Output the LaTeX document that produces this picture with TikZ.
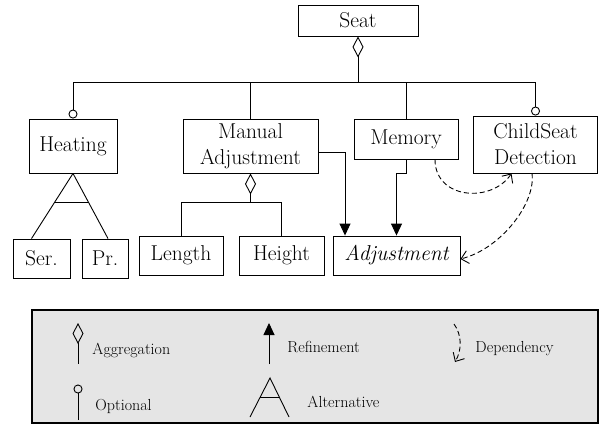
\documentclass[tikz,border=0pt]{standalone}
\usetikzlibrary{arrows.meta}

\begin{document}
\begin{tikzpicture}[x=1pt, y=-1pt, line width=0.9pt,
  feat/.style={draw, inner sep=0pt, align=center, font=\fontsize{21.5}{26}\selectfont},
  legtext/.style={anchor=base west, inner sep=0pt, font=\fontsize{16}{20}\selectfont},
  aggr/.style={{Diamond[open,length=21pt,width=11pt]}-},
  opt/.style={-{Circle[open,length=9pt]}},
  refine/.style={-{Triangle[length=12pt,width=11pt]}},
  dep/.style={dash pattern=on 5pt off 3pt, -{Straight Barb[length=7pt,width=13pt]}}]
  \useasboundingbox (0,0) rectangle (599,433);

  \node[feat, minimum width=120pt, minimum height=31pt] (seat) at (358,20.5) {Seat};
  \node[feat, minimum width=88pt, minimum height=54pt] (heating) at (73,146) {Heating};
  \node[feat, minimum width=135pt, minimum height=54pt] (manual) at (250.5,146) {Manual\\Adjustment};
  \node[feat, minimum width=104pt, minimum height=40pt] (memory) at (406,139) {Memory};
  \node[feat, minimum width=124pt, minimum height=57pt] (child) at (535.5,144.5) {ChildSeat\\Detection};
  \node[feat, minimum width=57pt, minimum height=39pt] (ser) at (41.5,258.5) {Ser.};
  \node[feat, minimum width=46pt, minimum height=39pt] (pr) at (105,258.5) {Pr.};
  \node[feat, minimum width=84pt, minimum height=39pt] (len) at (181,255.5) {Length};
  \node[feat, minimum width=85pt, minimum height=39pt] (height) at (281.5,255.5) {Height};
  \node[feat, minimum width=127pt, minimum height=39pt] (adjust) at (396.5,255.5) {\itshape Adjustment};

  \coordinate (hub) at (358,82);
  \coordinate (sub) at (250.5,202);
  \draw[aggr] (seat.south) -- (hub);
  \draw[opt] (hub) -| (heating.north);
  \draw (hub) -| (manual.north);
  \draw (hub) -| (memory.north);
  \draw[opt] (hub) -| (child.north);

  \draw[aggr] (manual.south) -- (sub);
  \draw (sub) -| (len.north);
  \draw (sub) -| (height.north);

  \draw (heating.south) -- coordinate[pos=.45] (altl) ([xshift=-10pt]ser.north);
  \draw (heating.south) -- coordinate[pos=.45] (altr) ([xshift=3pt]pr.north);
  \draw (altl) -- (altr);

  \draw[refine] ([yshift=-6pt]manual.east) -| ([xshift=-51.5pt]adjust.north);
  \draw[refine] (memory.south) -- ++(0,14) -| (adjust.north);
  \draw[dep] ([xshift=29pt]memory.south) .. controls +(0,40) and +(-20,30) .. ([xshift=-24pt]child.south);
  \draw[dep] ([xshift=-3.5pt]child.south) .. controls +(4,30) and +(40,-10) .. ([yshift=-3.5pt]adjust.east);

  % legend
  \draw[line width=2pt, fill=gray!20] (32,310) rectangle (597.5,423);
  \draw[aggr] (78,323) -- (78,364);
  \node[legtext] (lagg) at (92,354) {Aggregation};
  \draw[opt] (78,420) -- (78,384.5);
  \node[legtext] (lopt) at (95,410) {Optional};
  \draw[refine] (269,364) -- (269,323);
  \node[legtext] (lref) at (287,352) {Refinement};
  \draw (250,417) -- (270,378) -- (289,417);
  \draw (260,397) -- (279.5,397);
  \node[legtext] (lalt) at (307,407) {Alternative};
  \draw[dep] (454,324) .. controls (462,335) and (462,350) .. (455,362);
  \node[legtext] (ldep) at (475,352) {Dependency};
\end{tikzpicture}
\end{document}
